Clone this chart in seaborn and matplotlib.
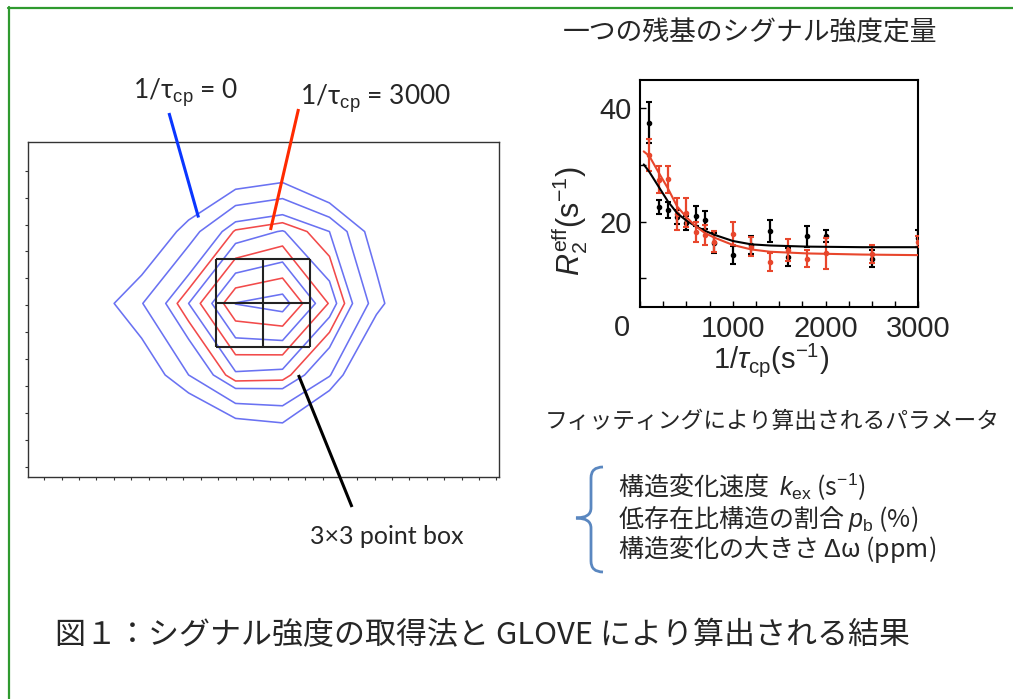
import numpy as np
import pandas as pd
import matplotlib
matplotlib.use("Agg")
import matplotlib.pyplot as plt
import seaborn as sns
from matplotlib.path import Path
from matplotlib.patches import PathPatch
from matplotlib.ticker import MultipleLocator

# ---------------- data ----------------
# Left panel: 2D peak (HSQC-like) intensity grid, arbitrary units
grid_x = [2.9, 5.6, 8.3, 11.0, 13.7, 16.4, 19.1, 21.8]
grid_y = [0.74, 3.41, 6.07, 8.74, 11.40]
peak_intensity = [
    [-2.0, -2.0, -2.0, -0.9, -0.4, -3.0, -2.0, -2.0],
    [-1.5, 0.0, 2.0, 3.9, 3.8, 2.1, -1.7, -2.0],
    [0.33, 1.95, 4.0, 6.02, 6.29, 4.45, 1.5, -1.3],
    [-1.5, -0.46, 1.5, 3.6, 4.05, 3.0, 0.33, -2.0],
    [-2.0, -2.0, -1.6, -0.8, -0.4, -2.0, -2.0, -2.0],
]
levels_tau0 = [1, 2, 3, 4, 5, 6]          # 1/tau_cp = 0   (blue)
levels_tau3000 = [3.5, 4.5, 5.5]          # 1/tau_cp = 3000 (red)
box_x = [9.9, 12.6, 15.3]                 # 3x3 point box edges / centre
box_y = [4.46, 6.08, 7.72]

# Right panel: relaxation dispersion of one residue
inv_tau = [100, 200, 300, 400, 500, 600, 700, 800, 1000, 1200, 1400, 1600, 1800, 2000, 2500, 3000]
r2_black = [37.5, 22.6, 22.0, 20.8, 19.8, 21.0, 20.3, 16.2, 14.1, 15.9, 18.4, 13.8, 17.4, 17.5, 13.5, 17.1]
err_black = [3.7, 1.3, 1.4, 1.2, 1.2, 1.8, 1.6, 1.8, 1.6, 1.6, 1.9, 1.6, 1.9, 1.0, 1.5, 1.5]
r2_red = [31.8, 27.4, 27.5, 21.4, 21.6, 18.2, 17.6, 16.5, 17.9, 15.6, 12.9, 15.0, 13.5, 14.4, 14.3, 16.5]
err_red = [2.8, 2.4, 2.4, 2.8, 2.6, 1.8, 1.8, 1.8, 2.0, 1.7, 1.6, 1.9, 1.5, 2.8, 1.6, 1.0]

fit_x = [40, 100, 200, 300, 400, 500, 600, 700, 800, 1000, 1200, 1400, 1800, 2400, 3000]
fit_black = [30.1, 28.8, 26.2, 23.6, 21.5, 20.2, 19.2, 18.4, 17.7, 16.6, 16.0, 15.8, 15.6, 15.5, 15.5]
fit_red = [32.4, 31.6, 28.7, 25.9, 22.7, 20.8, 19.2, 18.0, 17.2, 15.9, 15.1, 14.7, 14.4, 14.2, 14.1]

# ---------------- style ----------------
sns.set_theme(style="ticks")
plt.rcParams["font.family"] = ["Liberation Sans", "DejaVu Sans"]
plt.rcParams["mathtext.fontset"] = "custom"
plt.rcParams["mathtext.rm"] = "Liberation Sans"
plt.rcParams["mathtext.it"] = "Liberation Sans:italic"
plt.rcParams["mathtext.bf"] = "Liberation Sans:bold"

JP = ["Noto Sans CJK JP", "DejaVu Sans"]
LAT = ["Lato", "DejaVu Sans"]

W, H = 1013, 699
fig = plt.figure(figsize=(W / 100, H / 100), dpi=100)
fig.patch.set_facecolor("white")


def rect(x0, y0, x1, y1):
    return [x0 / W, 1 - y1 / H, (x1 - x0) / W, (y1 - y0) / H]


# ---------------- left panel: contours ----------------
ax1 = fig.add_axes(rect(28.3, 141.7, 499, 476.7))
Z = np.array(peak_intensity)
ax1.contour(grid_x, grid_y, Z, levels=levels_tau0, colors="#6a72f2", linewidths=1.15)
ax1.contour(grid_x, grid_y, Z, levels=levels_tau3000, colors="#f24a4a", linewidths=1.15)
ax1.vlines(box_x, box_y[0], box_y[-1], colors="#222222", linewidth=1.5)
ax1.hlines(box_y, box_x[0], box_x[-1], colors="#222222", linewidth=1.5)
ax1.set_xlim(-0.92, 26.15)
ax1.set_ylim(-0.37, 12.08)
ax1.set_xticks(range(27))
ax1.set_yticks(range(12))
ax1.tick_params(labelleft=False, labelbottom=False, direction="out",
                length=2.5, width=0.8, color="#333333")
for s in ax1.spines.values():
    s.set_color("#333333")
    s.set_linewidth(1.0)

# ---------------- right panel: dispersion curve ----------------
ax2 = fig.add_axes(rect(640, 80, 918.3, 306.7))
red_c = "#e8462c"
n = len(fit_x)
df_fit = pd.DataFrame({
    "x": fit_x + fit_x,
    "y": fit_black + fit_red,
    "series": ["tau0"] * n + ["tau3000"] * n,
})
ax2.errorbar(inv_tau, r2_black, yerr=err_black, fmt="o", ms=3, color="black",
             ecolor="black", elinewidth=1.6, capsize=2.5, capthick=1.5, zorder=2)
ax2.errorbar(inv_tau, r2_red, yerr=err_red, fmt="o", ms=3, color=red_c,
             ecolor=red_c, elinewidth=1.6, capsize=2.5, capthick=1.5, zorder=3)
sns.lineplot(data=df_fit, x="x", y="y", hue="series",
             palette={"tau0": "black", "tau3000": red_c},
             legend=False, linewidth=1.5, ax=ax2, zorder=4)
ax2.set_xlim(0, 3000)
ax2.set_ylim(5, 45)
ax2.set_xticks([0, 1000, 2000, 3000], ["", "1000", "2000", "3000"])
ax2.set_yticks([20, 40])
ax2.xaxis.set_minor_locator(MultipleLocator(250))
ax2.yaxis.set_minor_locator(MultipleLocator(10))
ax2.tick_params(which="both", direction="in", length=4, width=1.0, color="black",
                labelsize=21, pad=6)
for s in ax2.spines.values():
    s.set_color("black")
    s.set_linewidth(1.5)
ax2.annotate("0", xy=(0, 0), xycoords=("data", "axes fraction"), xytext=(-18, -7),
             textcoords="offset pixels", ha="center", va="top", fontsize=21)
ax2.set_xlabel(r"1/$\mathit{\tau}_{\mathrm{cp}}$(s$^{-1}$)", fontsize=21)
ax2.set_ylabel(r"$R_{2}^{\mathrm{eff}}$(s$^{-1}$)", fontsize=22)
ax2.xaxis.set_label_coords(0.47, -0.15)
ax2.yaxis.set_label_coords(-0.18, 0.38)

# ---------------- overlay (annotations, texts) ----------------
ov = fig.add_axes([0, 0, 1, 1], zorder=10)
ov.set_xlim(0, W)
ov.set_ylim(H, 0)
ov.axis("off")
ov.patch.set_alpha(0)

# green frame
ov.plot([8, W], [7.5, 7.5], color="#2f9a2f", lw=1.6, clip_on=False)
ov.plot([8.5, 8.5], [7, H], color="#2f9a2f", lw=1.6, clip_on=False)

# pointer lines
ov.plot([169, 198.5], [113, 217.5], color="#0a36ff", lw=2.2, solid_capstyle="butt")
ov.plot([298.5, 270.5], [109, 230], color="#ff2a00", lw=2.2, solid_capstyle="butt")
ov.plot([298.5, 352], [375, 507], color="black", lw=2.2, solid_capstyle="butt")

ov.text(133, 99, r"1/τ$_{\mathrm{cp}}$ = 0", fontsize=19, family=LAT, va="baseline", ha="left")
ov.text(300, 105, r"1/τ$_{\mathrm{cp}}$ = 3000", fontsize=19, family=LAT, va="baseline", ha="left")
ov.text(310, 537, "3×3 point box", fontsize=18, family=LAT, va="center", ha="left")

# Japanese texts
ov.text(750, 33, "一つの残基のシグナル強度定量", fontsize=19.3, family=JP, ha="center",
        va="center")
ov.text(545, 421, "フィッティングにより算出されるパラメータ", fontsize=16.4, family=JP,
        ha="left", va="center")
ov.text(618, 487, r"構造変化速度  $k_{\mathrm{ex}}$ (s$^{-1}$)", fontsize=18, family=JP,
        ha="left", va="center")
ov.text(618, 518, r"低存在比構造の割合 $p_{\mathrm{b}}$ (%)", fontsize=18, family=JP,
        ha="left", va="center")
ov.text(618, 549, r"構造変化の大きさ $\mathit{\Delta}$ω (ppm)", fontsize=18, family=JP,
        ha="left", va="center")
ov.text(55, 636, "図１：シグナル強度の取得法と GLOVE により算出される結果", fontsize=22.3,
        family=JP, ha="left", va="center")

# brace
verts = [(603, 467), (591, 467), (591, 478),
         (591, 508),
         (591, 518), (576, 518),
         (591, 518), (591, 528),
         (591, 561),
         (591, 572), (603, 572)]
codes = [Path.MOVETO, Path.CURVE3, Path.CURVE3,
         Path.LINETO,
         Path.CURVE3, Path.CURVE3,
         Path.CURVE3, Path.CURVE3,
         Path.LINETO,
         Path.CURVE3, Path.CURVE3]
ov.add_patch(PathPatch(Path(verts, codes), facecolor="none", edgecolor="#5a87c0", lw=2.0))

fig.savefig("out.png", dpi=100, facecolor="white")
